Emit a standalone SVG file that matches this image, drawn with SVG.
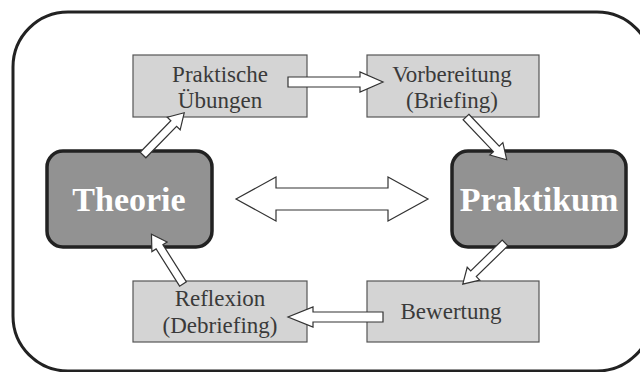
<svg xmlns="http://www.w3.org/2000/svg" width="640" height="372" viewBox="0 0 640 372">
  <style>
    .frame { fill: #ffffff; stroke: #222222; stroke-width: 3; }
    .step { fill: #d4d4d4; stroke: #555555; stroke-width: 1.2; }
    .main { fill: #929292; stroke: #222222; stroke-width: 3.5; }
    .stepText { font-family: "Liberation Serif", "Times New Roman", serif; font-size: 23px; fill: #3a3a3a; text-anchor: middle; }
    .mainText { font-family: "Liberation Serif", "Times New Roman", serif; font-size: 34px; font-weight: bold; fill: #ffffff; text-anchor: middle; }
    .arrow { fill: #ffffff; stroke: #333333; stroke-width: 1.2; stroke-linejoin: miter; }
  </style>
  <defs>
    <polygon id="diag" points="0,-4 44,-4 44,-9 59,0 44,9 44,4 0,4"/>
  </defs>
  <rect width="640" height="372" fill="#ffffff"/>
  <rect class="frame" x="13" y="12" width="639" height="359" rx="55" ry="55"/>

  <g id="node-praktische-uebungen">
    <rect class="step" x="133" y="55" width="174" height="62"/>
    <text class="stepText" x="220" y="82">Praktische</text>
    <text class="stepText" x="220" y="108">Übungen</text>
  </g>
  <g id="node-vorbereitung">
    <rect class="step" x="367" y="55" width="172" height="62"/>
    <text class="stepText" x="452" y="82">Vorbereitung</text>
    <text class="stepText" x="452" y="108">(Briefing)</text>
  </g>
  <g id="node-theorie">
    <rect class="main" x="47" y="151" width="165" height="96" rx="16" ry="16"/>
    <text class="mainText" x="129" y="211">Theorie</text>
  </g>
  <g id="node-praktikum">
    <rect class="main" x="452" y="151" width="174" height="96" rx="16" ry="16"/>
    <text class="mainText" x="539" y="211">Praktikum</text>
  </g>
  <g id="node-reflexion">
    <rect class="step" x="133" y="281" width="174" height="61"/>
    <text class="stepText" x="220" y="306">Reflexion</text>
    <text class="stepText" x="220" y="333">(Debriefing)</text>
  </g>
  <g id="node-bewertung">
    <rect class="step" x="367" y="281" width="172" height="61"/>
    <text class="stepText" x="451" y="319">Bewertung</text>
  </g>

  <g id="connectors">
    <use href="#diag" class="arrow" transform="translate(143,155) rotate(-45.7)"/>
    <polygon class="arrow" points="288,77 360,77 360,72 383,82 360,92 360,87 288,87"/>
    <use href="#diag" class="arrow" transform="translate(466,117) rotate(46.4)"/>
    <use href="#diag" class="arrow" transform="translate(505,243) rotate(135.7)"/>
    <polygon class="arrow" points="383,312 313,312 313,307 288,317 313,327 313,322 383,322"/>
    <use href="#diag" class="arrow" transform="translate(183,284) rotate(-122.3)"/>
    <polygon class="arrow" points="236,199 276,177 276,188 388,188 388,177 428,199 388,221 388,210 276,210 276,221"/>
  </g>
</svg>
